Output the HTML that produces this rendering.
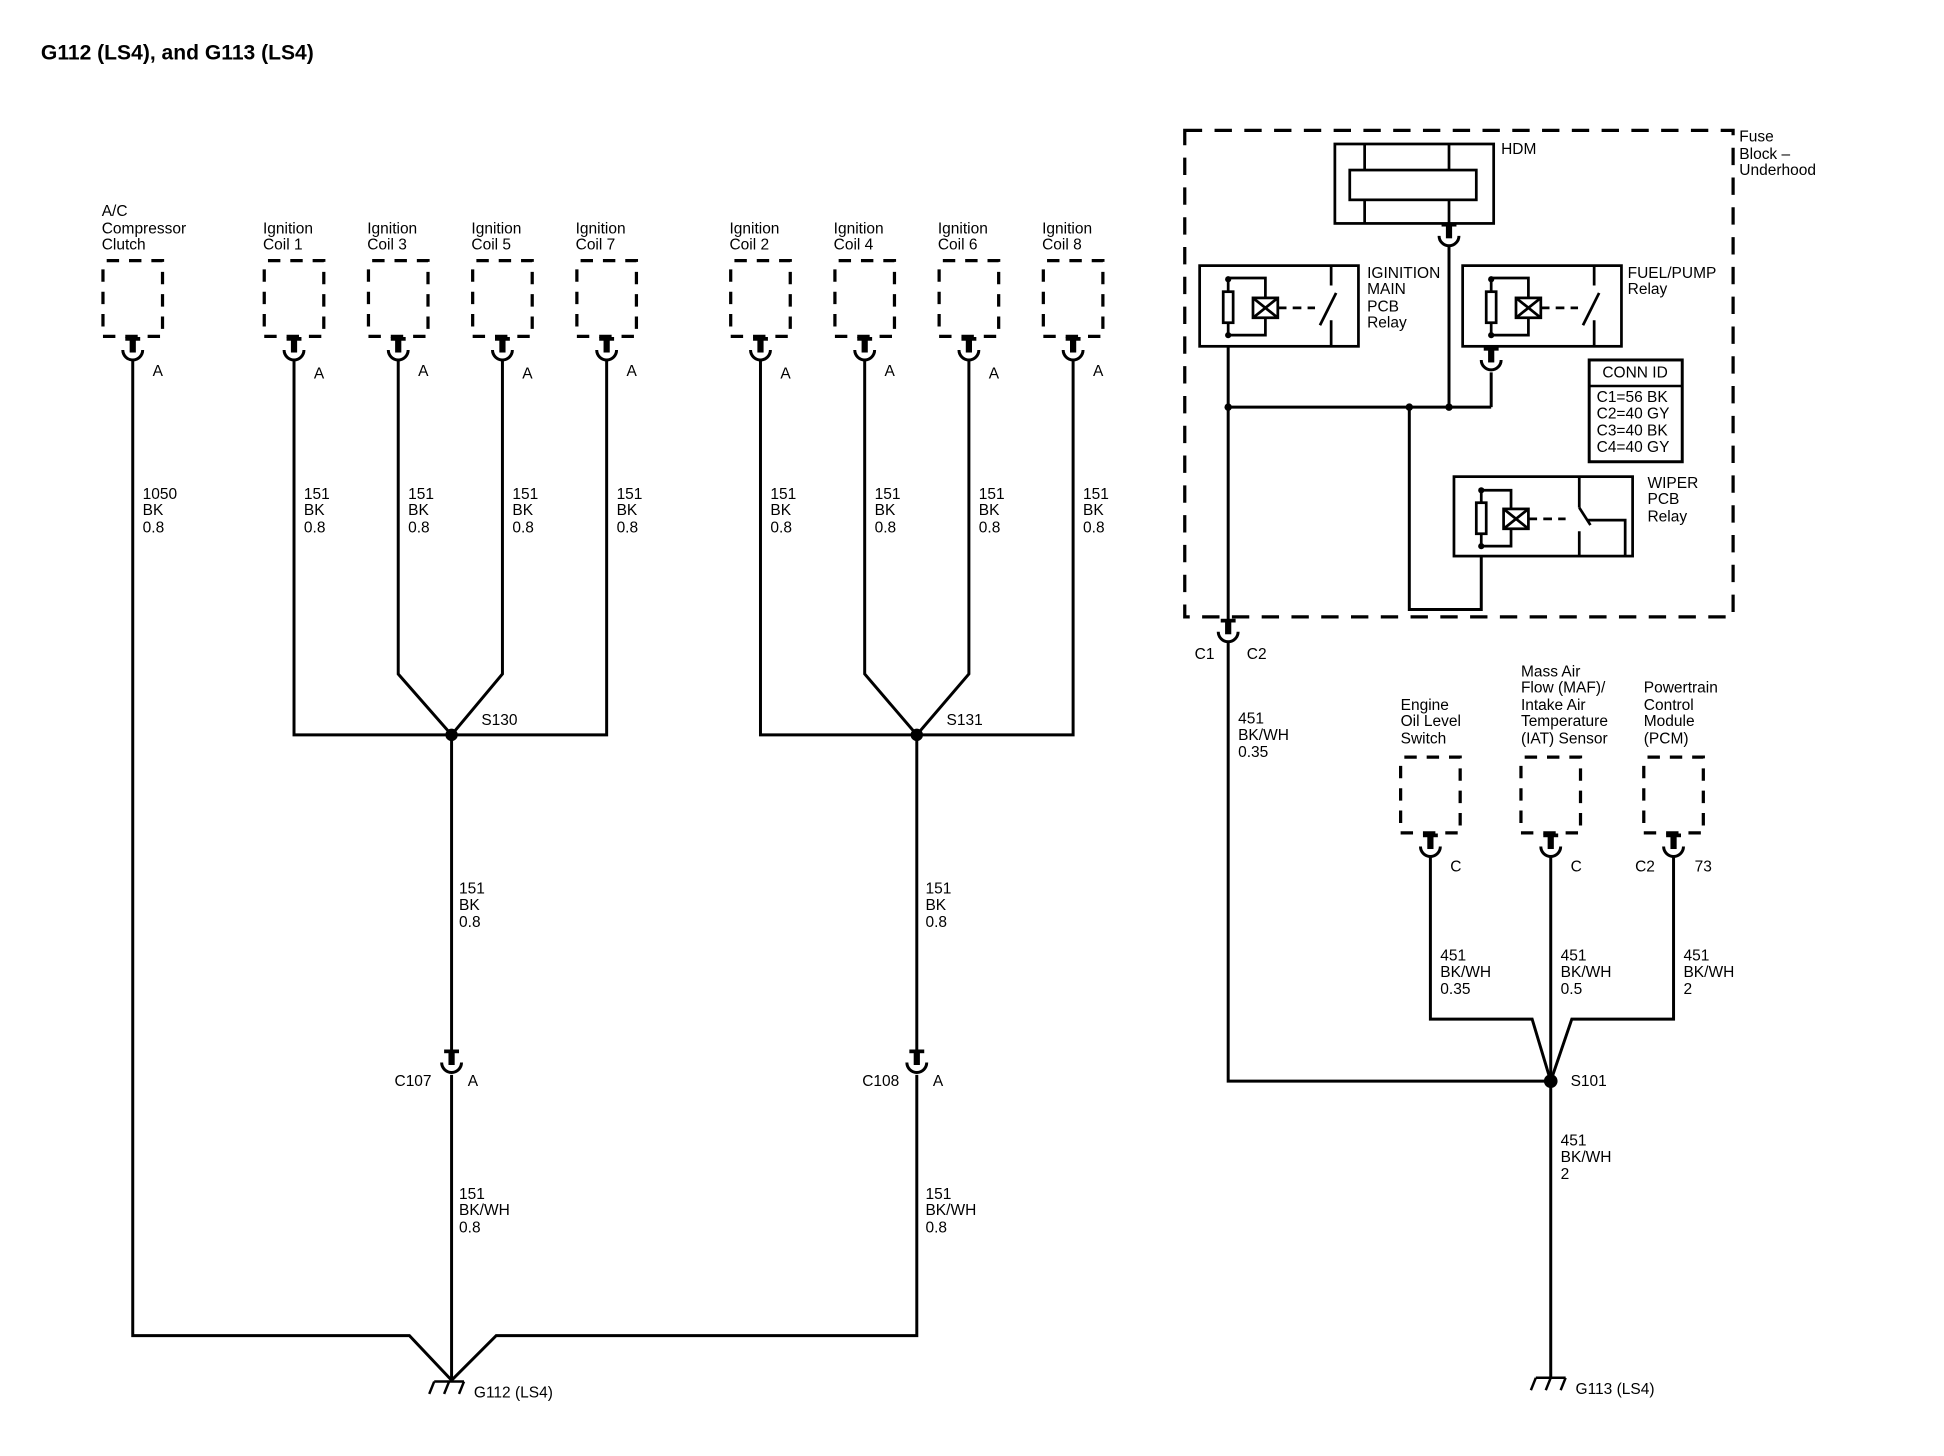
<!DOCTYPE html>
<html><head><meta charset="utf-8"><style>
html,body{margin:0;padding:0;background:#fff;}
svg{display:block;}
text{font-family:"Liberation Sans",sans-serif;font-size:12.5px;fill:#000;}
</style></head><body>
<svg width="1944" height="1456" viewBox="0 0 1567 1173" preserveAspectRatio="none" xmlns="http://www.w3.org/2000/svg">
<defs>
<g id="box"><rect x="-24" y="0" width="48" height="61" fill="none" stroke="#000" stroke-width="2.6" stroke-dasharray="10 8" stroke-dashoffset="-3"/></g>
<g id="con" fill="none" stroke="#000">
<line x1="-6" y1="1" x2="6" y2="1" stroke-width="3"/>
<line x1="0" y1="0" x2="0" y2="12" stroke-width="5"/>
<path d="M-8,10 A8,8 0 0 0 8,10" stroke-width="2.4"/>
</g>
<g id="gnd" fill="none" stroke="#000" stroke-width="2">
<line x1="-12" y1="0" x2="12" y2="0"/>
<line x1="-12" y1="0" x2="-16" y2="10"/>
<line x1="0" y1="0" x2="-4" y2="10"/>
<line x1="12" y1="0" x2="8" y2="10"/>
</g>
<g id="relay" fill="none" stroke="#000" stroke-width="2.2">
<rect x="0" y="0" width="128" height="65"/>
<rect x="19" y="21" width="8" height="25"/>
<polyline points="23,10 53,10 53,26"/>
<polyline points="23,56 53,56 53,42"/>
<line x1="23" y1="10" x2="23" y2="21"/>
<line x1="23" y1="46" x2="23" y2="56"/>
<rect x="43" y="26" width="20" height="16"/>
<line x1="43" y1="26" x2="63" y2="42"/>
<line x1="63" y1="26" x2="43" y2="42"/>
<line x1="63" y1="34" x2="93" y2="34" stroke-dasharray="7 5"/>
<line x1="106" y1="0" x2="106" y2="16"/>
<line x1="97" y1="48" x2="110" y2="22"/>
<line x1="106" y1="44" x2="106" y2="65"/>
</g>
</defs>
<text x="33" y="48" style="font-size:17px;font-weight:bold">G112 (LS4), and G113 (LS4)</text>

<g>
<use href="#box" x="107" y="210"/><use href="#con" x="107" y="272"/>
<use href="#box" x="237" y="210"/><use href="#con" x="237" y="272"/>
<use href="#box" x="321" y="210"/><use href="#con" x="321" y="272"/>
<use href="#box" x="405" y="210"/><use href="#con" x="405" y="272"/>
<use href="#box" x="489" y="210"/><use href="#con" x="489" y="272"/>
<use href="#box" x="613" y="210"/><use href="#con" x="613" y="272"/>
<use href="#box" x="697" y="210"/><use href="#con" x="697" y="272"/>
<use href="#box" x="781" y="210"/><use href="#con" x="781" y="272"/>
<use href="#box" x="865" y="210"/><use href="#con" x="865" y="272"/>
</g>
<text x="82" y="174">A/C</text><text x="82" y="188">Compressor</text><text x="82" y="201">Clutch</text>
<text x="212" y="188">Ignition</text><text x="212" y="201">Coil 1</text>
<text x="296" y="188">Ignition</text><text x="296" y="201">Coil 3</text>
<text x="380" y="188">Ignition</text><text x="380" y="201">Coil 5</text>
<text x="464" y="188">Ignition</text><text x="464" y="201">Coil 7</text>
<text x="588" y="188">Ignition</text><text x="588" y="201">Coil 2</text>
<text x="672" y="188">Ignition</text><text x="672" y="201">Coil 4</text>
<text x="756" y="188">Ignition</text><text x="756" y="201">Coil 6</text>
<text x="840" y="188">Ignition</text><text x="840" y="201">Coil 8</text>
<g><text x="123" y="303">A</text><text x="253" y="305">A</text><text x="337" y="303">A</text><text x="421" y="305">A</text><text x="505" y="303">A</text><text x="629" y="305">A</text><text x="713" y="303">A</text><text x="797" y="305">A</text><text x="881" y="303">A</text></g>

<g fill="none" stroke="#000" stroke-width="2.4">
<polyline points="107,290 107,1076 330,1076 364,1112"/>
<polyline points="237,290 237,592 489,592 489,290"/>
<polyline points="321,290 321,543 364,592 405,543 405,290"/>
<line x1="364" y1="592" x2="364" y2="848"/>
<line x1="364" y1="866" x2="364" y2="1112"/>
<polyline points="613,290 613,592 865,592 865,290"/>
<polyline points="697,290 697,543 739,592 781,543 781,290"/>
<line x1="739" y1="592" x2="739" y2="848"/>
<polyline points="739,866 739,1076 400,1076 364,1112"/>
</g>
<circle cx="364" cy="592" r="5"/><circle cx="739" cy="592" r="5"/>
<use href="#con" x="364" y="846"/><use href="#con" x="739" y="846"/>
<use href="#gnd" x="362" y="1113"/>
<text x="382" y="1126">G112 (LS4)</text>
<text x="388" y="584">S130</text><text x="763" y="584">S131</text>
<text x="318" y="875">C107</text><text x="377" y="875">A</text>
<text x="695" y="875">C108</text><text x="752" y="875">A</text>
<g>
<text x="115" y="402">1050</text><text x="115" y="415">BK</text><text x="115" y="429">0.8</text>
<text x="245" y="402">151</text><text x="245" y="415">BK</text><text x="245" y="429">0.8</text>
<text x="329" y="402">151</text><text x="329" y="415">BK</text><text x="329" y="429">0.8</text>
<text x="413" y="402">151</text><text x="413" y="415">BK</text><text x="413" y="429">0.8</text>
<text x="497" y="402">151</text><text x="497" y="415">BK</text><text x="497" y="429">0.8</text>
<text x="621" y="402">151</text><text x="621" y="415">BK</text><text x="621" y="429">0.8</text>
<text x="705" y="402">151</text><text x="705" y="415">BK</text><text x="705" y="429">0.8</text>
<text x="789" y="402">151</text><text x="789" y="415">BK</text><text x="789" y="429">0.8</text>
<text x="873" y="402">151</text><text x="873" y="415">BK</text><text x="873" y="429">0.8</text>
<text x="370" y="720">151</text><text x="370" y="733">BK</text><text x="370" y="747">0.8</text>
<text x="746" y="720">151</text><text x="746" y="733">BK</text><text x="746" y="747">0.8</text>
<text x="370" y="966">151</text><text x="370" y="979">BK/WH</text><text x="370" y="993">0.8</text>
<text x="746" y="966">151</text><text x="746" y="979">BK/WH</text><text x="746" y="993">0.8</text>
</g>

<rect x="955" y="105" width="442" height="392" fill="none" stroke="#000" stroke-width="2.6" stroke-dasharray="14 10"/>
<text x="1402" y="114">Fuse</text><text x="1402" y="128">Block –</text><text x="1402" y="141">Underhood</text>
<g fill="none" stroke="#000" stroke-width="2.2">
<rect x="1076" y="116" width="128" height="64"/>
<rect x="1088" y="137" width="102" height="24"/>
<line x1="1100" y1="116" x2="1100" y2="137"/><line x1="1100" y1="161" x2="1100" y2="180"/>
<line x1="1168" y1="116" x2="1168" y2="137"/><line x1="1168" y1="161" x2="1168" y2="180"/>
</g>
<text x="1210" y="124">HDM</text>
<use href="#con" x="1168" y="180"/>
<use href="#relay" x="967" y="214"/>
<use href="#relay" x="1179" y="214"/>
<g fill="none" stroke="#000" stroke-width="2.2">
<rect x="1172" y="384" width="144" height="64"/>
<rect x="1190" y="405" width="8" height="25"/>
<polyline points="1194,395 1218,395 1218,410"/>
<polyline points="1194,440 1218,440 1218,426"/>
<line x1="1194" y1="395" x2="1194" y2="405"/><line x1="1194" y1="430" x2="1194" y2="440"/>
<rect x="1212" y="410" width="20" height="16"/>
<line x1="1212" y1="410" x2="1232" y2="426"/><line x1="1232" y1="410" x2="1212" y2="426"/>
<line x1="1232" y1="418" x2="1262" y2="418" stroke-dasharray="7 5"/>
<line x1="1273" y1="384" x2="1273" y2="409"/>
<line x1="1273" y1="409" x2="1282" y2="423"/>
<polyline points="1280,419 1310,419 1310,448"/>
<line x1="1273" y1="428" x2="1273" y2="448"/>
</g>
<g fill="none" stroke="#000" stroke-width="2.4">
<line x1="1168" y1="198" x2="1168" y2="328"/>
<line x1="990" y1="279" x2="990" y2="500"/>
<line x1="990" y1="328" x2="1202" y2="328"/>
<line x1="1202" y1="300" x2="1202" y2="328"/>
<polyline points="1136,328 1136,491 1194,491 1194,448"/>
</g>
<use href="#con" x="1202" y="280"/>
<circle cx="990" cy="328" r="3"/><circle cx="1136" cy="328" r="3"/><circle cx="1168" cy="328" r="3"/>
<circle cx="990" cy="225" r="2.5"/><circle cx="990" cy="270" r="2.5"/>
<circle cx="1202" cy="225" r="2.5"/><circle cx="1202" cy="270" r="2.5"/>
<circle cx="1194" cy="395" r="2.5"/><circle cx="1194" cy="440" r="2.5"/>
<text x="1102" y="224">IGINITION</text><text x="1102" y="237">MAIN</text><text x="1102" y="251">PCB</text><text x="1102" y="264">Relay</text>
<text x="1312" y="224">FUEL/PUMP</text><text x="1312" y="237">Relay</text>
<text x="1328" y="393">WIPER</text><text x="1328" y="406">PCB</text><text x="1328" y="420">Relay</text>
<rect x="1281" y="290" width="75" height="82" fill="none" stroke="#000" stroke-width="2.4"/>
<line x1="1281" y1="311" x2="1356" y2="311" stroke="#000" stroke-width="2"/>
<text x="1318" y="304" text-anchor="middle">CONN ID</text>
<text x="1287" y="324">C1=56 BK</text><text x="1287" y="337">C2=40 GY</text><text x="1287" y="351">C3=40 BK</text><text x="1287" y="364">C4=40 GY</text>

<use href="#con" x="990" y="499"/>
<text x="963" y="531">C1</text><text x="1005" y="531">C2</text>
<text x="998" y="583">451</text><text x="998" y="596">BK/WH</text><text x="998" y="610">0.35</text>
<use href="#box" x="1153" y="610"/><use href="#con" x="1153" y="672"/>
<use href="#box" x="1250" y="610"/><use href="#con" x="1250" y="672"/>
<use href="#box" x="1349" y="610"/><use href="#con" x="1349" y="672"/>
<text x="1129" y="572">Engine</text><text x="1129" y="585">Oil Level</text><text x="1129" y="599">Switch</text>
<text x="1226" y="545">Mass Air</text><text x="1226" y="558">Flow (MAF)/</text><text x="1226" y="572">Intake Air</text><text x="1226" y="585">Temperature</text><text x="1226" y="599">(IAT) Sensor</text>
<text x="1325" y="558">Powertrain</text><text x="1325" y="572">Control</text><text x="1325" y="585">Module</text><text x="1325" y="599">(PCM)</text>
<text x="1169" y="702">C</text><text x="1266" y="702">C</text><text x="1318" y="702">C2</text><text x="1366" y="702">73</text>
<g fill="none" stroke="#000" stroke-width="2.4">
<polyline points="990,516 990,871 1250,871"/>
<polyline points="1153,690 1153,821 1235,821 1250,871"/>
<line x1="1250" y1="690" x2="1250" y2="1110"/>
<polyline points="1349,690 1349,821 1267,821 1250,871"/>
</g>
<circle cx="1250" cy="871" r="5.5"/>
<text x="1266" y="875">S101</text>
<text x="1161" y="774">451</text><text x="1161" y="787">BK/WH</text><text x="1161" y="801">0.35</text>
<text x="1258" y="774">451</text><text x="1258" y="787">BK/WH</text><text x="1258" y="801">0.5</text>
<text x="1357" y="774">451</text><text x="1357" y="787">BK/WH</text><text x="1357" y="801">2</text>
<text x="1258" y="923">451</text><text x="1258" y="936">BK/WH</text><text x="1258" y="950">2</text>
<use href="#gnd" x="1250" y="1110"/>
<text x="1270" y="1123">G113 (LS4)</text>
</svg>
</body></html>
